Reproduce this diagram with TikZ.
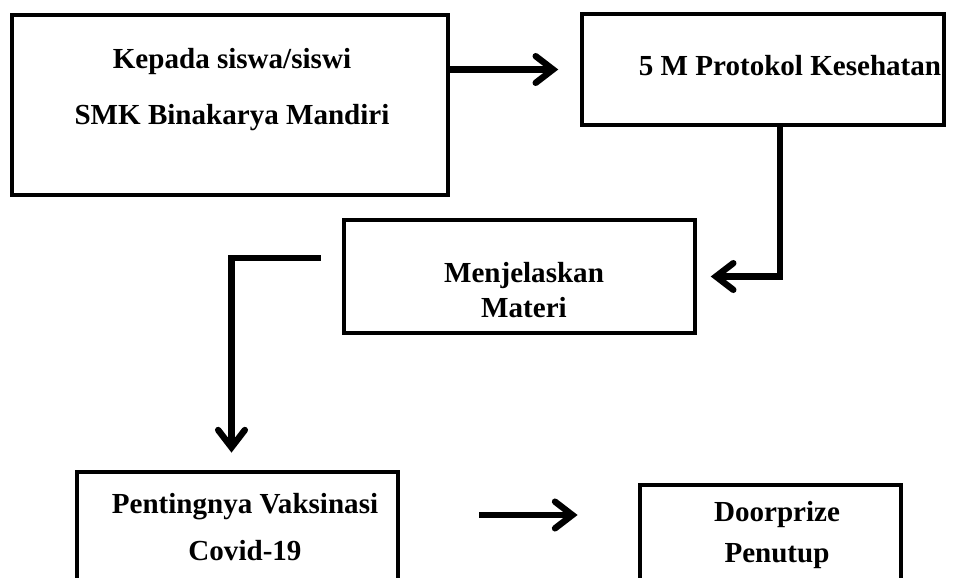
\documentclass[tikz,border=0pt]{standalone}
\usepackage{fontspec}
\setmainfont{Liberation Serif}
\usetikzlibrary{arrows.meta,calc}

\begin{document}
\begin{tikzpicture}[
  x=0.75pt, y=-0.75pt,
  box/.style={draw, line width=3.6pt, inner sep=0pt},
  txt/.style={align=center, inner sep=0pt, font=\fontsize{21.8}{#1}\selectfont\bfseries},
  txt/.default=26pt,
  arr/.style={-{Straight Barb[length=13pt,width=20pt,line cap=round]}, line width=4.8pt},
]
\clip (0,0) rectangle (953,578);

\node[box, minimum width=327pt, minimum height=135pt] (kepada) at (230,105) {};
\node[txt=42pt] (kepadaTxt) at (232,90) {Kepada siswa/siswi\\SMK Binakarya Mandiri};

\node[box, minimum width=271.5pt, minimum height=83.25pt] (protokol) at (763,69.5) {};
\node[txt] (protokolTxt) at (790,66) {5 M Protokol Kesehatan};

\node[box, minimum width=263.25pt, minimum height=84.75pt] (materi) at (519.5,276.5) {};
\node[txt=26.25pt] (materiTxt) at (524,290) {Menjelaskan\\Materi};

\node[box, minimum width=240.75pt, minimum height=126pt] (vaksin) at (237.5,556) {};
\node[txt=35.25pt] (vaksinTxt) at (245,527) {Pentingnya Vaksinasi\\Covid-19};

\node[box, minimum width=195.75pt, minimum height=116.25pt] (penutup) at (770.5,562.5) {};
\node[txt=30.75pt] (penutupTxt) at (777,535) {Doorprize\\Penutup};

% alur materi
\draw[arr, shorten >=16pt] (kepada.east |- protokol.west) -- (protokol.west);
\draw[arr, shorten >=10pt] ($(protokol.south)+(17,0)$) |- (materi.east);
\draw[arr, shorten >=12.75pt] ($(materi.west)+(-21,-18.5)$) -| ($(vaksin.north)+(-6,0)$);
\draw[arr, shorten <=59pt, shorten >=45pt] ($(vaksin.east)+(0,-41)$) -- ($(vaksin.east -| penutup.west)+(0,-41)$);
\end{tikzpicture}
\end{document}
